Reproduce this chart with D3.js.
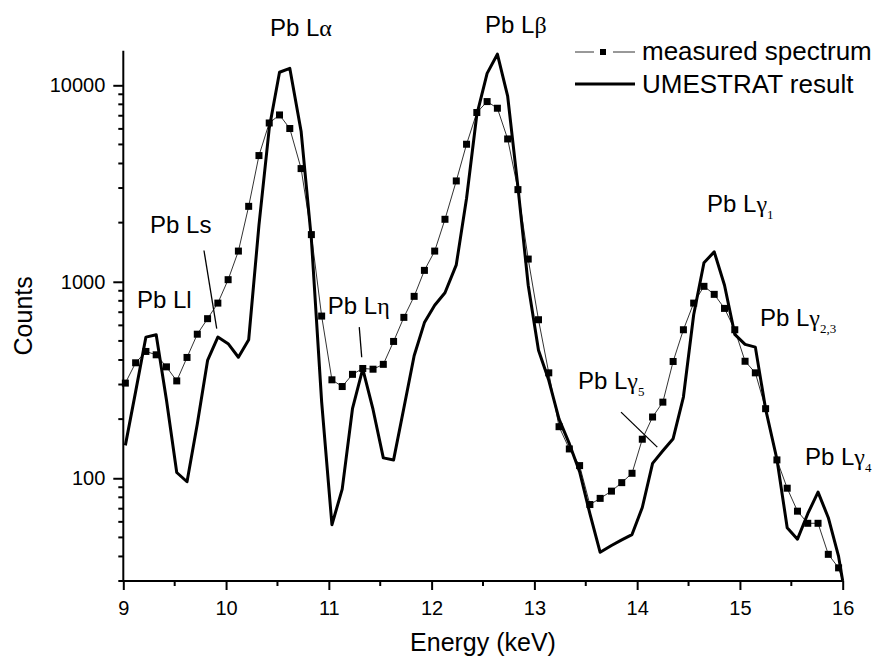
<!DOCTYPE html>
<html>
<head>
<meta charset="utf-8">
<script src="https://cdn.jsdelivr.net/npm/d3@7"></script>
<style>
  body { margin: 0; background: #fff; }
  svg { display: block; }
  text { font-family: "Liberation Sans", Arial, Helvetica, sans-serif; fill: #000; }
  .greek { font-family: "Liberation Serif", "Times New Roman", serif; }
</style>
</head>
<body>
<svg id="chart" width="881" height="661"></svg>
<script>
// Channel energies (keV) of the spectrum
const energies = [
  9.02, 9.12, 9.22, 9.32, 9.42, 9.52, 9.62, 9.72, 9.82, 9.92,
  10.02, 10.12, 10.22, 10.32, 10.42, 10.52, 10.62, 10.73, 10.83, 10.93,
  11.03, 11.13, 11.23, 11.33, 11.43, 11.53, 11.63, 11.73, 11.83, 11.93,
  12.03, 12.13, 12.24, 12.34, 12.44, 12.54, 12.64, 12.74, 12.84, 12.94,
  13.04, 13.14, 13.24, 13.34, 13.44, 13.54, 13.64, 13.75, 13.85, 13.95,
  14.05, 14.15, 14.25, 14.35, 14.45, 14.55, 14.65, 14.75, 14.85, 14.95,
  15.05, 15.15, 15.25, 15.36, 15.46, 15.56, 15.66, 15.76, 15.86, 15.96,
  16.0
];

// Measured spectrum (counts)
const measured = [
  305, 387, 442, 425, 369, 313, 412, 541, 649, 779,
  1025, 1433, 2421, 4389, 6430, 7065, 6026, 3768, 1738, 669,
  317, 293, 338, 362, 359, 380, 497, 659, 843, 1143,
  1433, 2080, 3260, 5012, 7268, 8263, 7643, 5333, 2945, 1305,
  641, 344, 183, 141, 116, 73.5, 79, 86, 95, 106,
  158, 205, 244, 393, 570, 779, 948, 863, 732, 570,
  394, 344, 226, 124, 89, 68, 59, 59, 41, 35,
  30
];

// UMESTRAT result (counts)
const umestrat = [
  147, 276, 523, 538, 250, 107, 96, 189, 398, 523,
  484, 413, 507, 1940, 6040, 11650, 12200, 5840, 1650, 245,
  58, 88, 226, 360, 224, 127, 124, 228, 420, 620,
  760, 880, 1220, 2660, 7100, 11500, 14400, 8800, 3030, 960,
  448, 315, 200, 150, 108, 66, 42, 45.5, 48.6, 51.7,
  71, 119, 138, 159, 259, 680, 1250, 1420, 960, 540,
  480, 465, 225, 125, 56, 49, 66, 85, 63, 40,
  30
];

const xTicks = [9, 10, 11, 12, 13, 14, 15, 16];
const xMinorTicks = [9.5, 10.5, 11.5, 12.5, 13.5, 14.5, 15.5];
const yTickLabels = [100, 1000, 10000];

// Line annotations: text, greek letter, subscript, anchor (energy, counts)
const lineLabels = [
  { base: "Pb Lα", greek: "", sub: "", e: 10.427, c: 17800 },
  { base: "Pb Lβ", greek: "", sub: "", e: 12.52, c: 18420 },
  { base: "Pb Ls", greek: "", sub: "", e: 9.26, c: 1765 },
  { base: "Pb Ll", greek: "", sub: "", e: 9.133, c: 732 },
  { base: "Pb Lη", greek: "", sub: "", e: 10.99, c: 682 },
  { base: "Pb L", greek: "γ", sub: "1", e: 14.68, c: 2257 },
  { base: "Pb L", greek: "γ", sub: "2,3", e: 15.195, c: 593 },
  { base: "Pb L", greek: "γ", sub: "5", e: 13.424, c: 283 },
  { base: "Pb L", greek: "γ", sub: "4", e: 15.633, c: 117 }
];
// Leader lines from labels to peaks: [e1, c1, e2, c2]
const leaders = [
  [9.785, 1443, 9.909, 578],
  [11.296, 588, 11.32, 413],
  [13.843, 217, 14.196, 144]
];

const svg = d3.select("#chart");
const x = d3.scaleLinear().domain([9, 16]).range([123.3, 842.7]);
const y = d3.scaleLog().domain([30, 15000]).range([581, 50.7]);

// Axes
const xAxis = d3.axisBottom(x).tickValues(xTicks).tickFormat(d3.format("d")).tickSize(9).tickPadding(11);
const gx = svg.append("g").attr("transform", `translate(0,${y.range()[0]})`).call(xAxis);
gx.select(".domain").attr("stroke-width", 2).attr("d", `M${x(9)},0H${x(16)}`);
gx.selectAll(".tick line").attr("stroke-width", 2);
gx.selectAll(".tick text").attr("font-size", 20).attr("font-family", "Liberation Sans, Arial, sans-serif");
gx.selectAll(".minor").data(xMinorTicks).enter().append("line")
  .attr("x1", d => x(d)).attr("x2", d => x(d)).attr("y1", 0).attr("y2", 5)
  .attr("stroke", "#000").attr("stroke-width", 2);

const minorY = [];
[10, 100, 1000].forEach(dec => { for (let k = 2; k <= 9; k++) { const v = k * dec; if (v >= 30 && v <= 15000) minorY.push(v); } });

const yAxis = d3.axisLeft(y).tickValues(yTickLabels).tickFormat(d3.format("d")).tickSize(10).tickPadding(8);
const gy = svg.append("g").attr("transform", `translate(${x.range()[0]},0)`).call(yAxis);
gy.select(".domain").attr("stroke-width", 2).attr("d", `M0,${y.range()[0]}V${y.range()[1]}`);
gy.selectAll(".tick line").attr("stroke-width", 2);
gy.selectAll(".tick text").attr("font-size", 20).attr("font-family", "Liberation Sans, Arial, sans-serif");
gy.selectAll(".minor").data(minorY).enter().append("line")
  .attr("x1", -5).attr("x2", 0).attr("y1", d => y(d)).attr("y2", d => y(d))
  .attr("stroke", "#000").attr("stroke-width", 2);

// Axis titles
svg.append("text").attr("x", (x.range()[0] + x.range()[1]) / 2).attr("y", 651)
  .attr("text-anchor", "middle").attr("font-size", 25).text("Energy (keV)");
svg.append("text").attr("transform", `translate(32,${(y.range()[0] + y.range()[1]) / 2}) rotate(-90)`)
  .attr("text-anchor", "middle").attr("font-size", 25).text("Counts");

const pts = energies.map((e, i) => ({ e, m: measured[i], u: umestrat[i] }));

// Measured spectrum: thin line with square markers
svg.append("path").datum(pts)
  .attr("fill", "none").attr("stroke", "#333").attr("stroke-width", 1)
  .attr("d", d3.line().x(d => x(d.e)).y(d => y(d.m)));
svg.append("g").selectAll("rect").data(pts.slice(0, pts.length - 1)).enter().append("rect")
  .attr("x", d => x(d.e) - 3.5).attr("y", d => y(d.m) - 3.5)
  .attr("width", 7).attr("height", 7).attr("fill", "#000");

// UMESTRAT result: thick line
svg.append("path").datum(pts)
  .attr("fill", "none").attr("stroke", "#000").attr("stroke-width", 3).attr("stroke-linejoin", "round")
  .attr("d", d3.line().x(d => x(d.e)).y(d => y(d.u)));

// Annotations
lineLabels.forEach(l => {
  const t = svg.append("text").attr("x", x(l.e)).attr("y", y(l.c)).attr("font-size", 24);
  const m = l.base.match(/^(Pb L)(.*)$/);
  t.append("tspan").text(m[1]);
  if (/[αβη]/.test(m[2])) t.append("tspan").attr("class", "greek").text(m[2]);
  else if (m[2]) t.append("tspan").text(m[2]);
  if (l.greek) t.append("tspan").attr("class", "greek").text(l.greek);
  if (l.sub) t.append("tspan").attr("class", "greek").attr("font-size", 13).attr("dy", 7).text(l.sub);
});
svg.append("g").selectAll("line").data(leaders).enter().append("line")
  .attr("x1", d => x(d[0])).attr("y1", d => y(d[1])).attr("x2", d => x(d[2])).attr("y2", d => y(d[3]))
  .attr("stroke", "#000").attr("stroke-width", 1.3);

// Legend
const lg = svg.append("g");
lg.append("line").attr("x1", 575).attr("x2", 594).attr("y1", 52).attr("y2", 52).attr("stroke", "#333").attr("stroke-width", 1);
lg.append("line").attr("x1", 613).attr("x2", 635).attr("y1", 52).attr("y2", 52).attr("stroke", "#333").attr("stroke-width", 1);
lg.append("rect").attr("x", 600).attr("y", 49).attr("width", 6).attr("height", 6).attr("fill", "#000");
lg.append("text").attr("x", 642).attr("y", 60).attr("font-size", 26).text("measured spectrum");
lg.append("line").attr("x1", 575).attr("x2", 635).attr("y1", 84).attr("y2", 84).attr("stroke", "#000").attr("stroke-width", 3);
lg.append("text").attr("x", 642).attr("y", 93).attr("font-size", 26).text("UMESTRAT result");
</script>
</body>
</html>
